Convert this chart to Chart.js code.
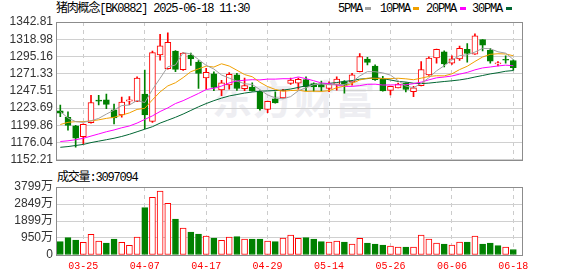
<!DOCTYPE html>
<html>
<head>
<meta charset="utf-8">
<script src="https://cdn.jsdelivr.net/npm/chart.js@4/dist/chart.umd.min.js"></script>
<style>
  body { margin: 0; width: 578px; height: 276px; overflow: hidden; position: relative; background: #fff; }
  .txt { position: absolute; white-space: nowrap; font-family: "Liberation Mono", "Noto Sans CJK SC", monospace;
         font-size: 12px; letter-spacing: -1.2px; line-height: 14px; color: #000; }
  .sq { position: absolute; width: 6px; height: 3px; top: 7px; }
  .mark { position: absolute; left: 212px; top: 68px; font-family: "Noto Sans CJK SC", sans-serif; font-weight: bold;
          font-size: 40px; letter-spacing: 1px; color: #eeeef2; white-space: nowrap; }
  canvas { position: absolute; left: 0; }
</style>
</head>
<body>
<div class="mark">东方财富</div>
<div class="txt" style="left:56px;top:2px">猪肉概念[BK0882] 2025-06-18 11:30</div>
<div class="txt" style="left:338px;top:2px">5PMA</div><div class="sq" style="left:365px;background:#a0a0a0"></div>
<div class="txt" style="left:380px;top:2px">10PMA</div><div class="sq" style="left:413px;background:#f0a000"></div>
<div class="txt" style="left:426px;top:2px">20PMA</div><div class="sq" style="left:460px;background:#ff00ff"></div>
<div class="txt" style="left:472px;top:2px">30PMA</div><div class="sq" style="left:506px;background:#006633"></div>
<div class="txt" style="left:57px;top:171px">成交量:3097094</div>
<canvas id="kChart" width="578" height="170" style="top:0"></canvas>
<canvas id="volChart" width="578" height="106" style="top:170px"></canvas>
<script>
// trading days shown
const dates = ['03-20','03-21','03-24','03-25','03-26','03-27','03-28','03-31','04-01','04-02',
  '04-03','04-07','04-08','04-09','04-10','04-11','04-14','04-15','04-16','04-17',
  '04-18','04-21','04-22','04-23','04-24','04-25','04-28','04-29','04-30','05-06',
  '05-07','05-08','05-09','05-12','05-13','05-14','05-15','05-16','05-19','05-20',
  '05-21','05-22','05-23','05-26','05-27','05-28','05-29','05-30','06-03','06-04',
  '06-05','06-06','06-09','06-10','06-11','06-12','06-13','06-16','06-17','06-18'];

// daily OHLC
const opens = [1220.1,1211.0,1199.2,1184.2,1203.5,1234.0,1235.0,1221.2,1214.2,1233.2,
  1233.0,1243.0,1205.3,1297.2,1278.1,1302.6,1276.8,1297.2,1287.5,1265.3,
  1271.0,1249.0,1255.7,1269.7,1250.5,1252.8,1247.0,1221.9,1236.4,1237.9,
  1257.9,1258.1,1263.0,1257.5,1256.4,1250.8,1256.4,1260.4,1260.1,1274.1,
  1291.4,1281.7,1264.0,1248.2,1251.7,1258.4,1246.4,1254.8,1269.5,1293.0,
  1301.5,1286.0,1291.7,1305.0,1298.4,1318.4,1303.7,1284.8,1290.4,1289.5];
const highs = [1227.9,1218.6,1200.0,1202.0,1241.3,1241.5,1243.0,1229.3,1239.0,1239.5,
  1267.0,1276.4,1302.5,1325.6,1328.0,1303.3,1300.6,1299.8,1289.5,1278.6,
  1274.0,1262.0,1273.0,1271.8,1265.2,1258.5,1247.6,1233.4,1246.3,1249.7,
  1265.2,1265.2,1266.8,1258.6,1261.0,1260.1,1267.0,1261.9,1271.9,1299.0,
  1294.1,1283.6,1267.5,1254.2,1258.4,1258.6,1254.0,1288.2,1294.8,1305.4,
  1302.8,1296.1,1309.5,1313.0,1326.4,1318.6,1306.4,1288.2,1296.1,1290.4];
const lows = [1212.0,1193.3,1169.8,1174.2,1203.0,1228.2,1223.0,1201.9,1211.2,1228.4,
  1232.5,1195.1,1204.0,1290.1,1277.5,1274.0,1276.0,1282.6,1251.0,1250.0,
  1247.9,1240.8,1250.0,1248.2,1247.9,1247.0,1221.0,1217.5,1230.5,1237.5,
  1256.4,1250.0,1247.7,1247.0,1247.0,1246.3,1248.6,1244.5,1255.3,1273.8,
  1283.5,1261.9,1247.0,1242.0,1251.5,1246.0,1239.7,1254.5,1269.0,1286.0,
  1280.6,1284.2,1289.5,1287.3,1298.0,1302.8,1286.0,1282.0,1286.0,1276.2];
const closes = [1216.6,1199.6,1182.0,1201.2,1231.5,1233.4,1228.8,1210.1,1232.0,1235.1,
  1265.3,1214.3,1300.4,1309.7,1314.6,1277.3,1299.7,1291.9,1271.6,1273.2,
  1252.3,1258.6,1270.4,1250.8,1255.0,1247.5,1223.0,1233.0,1231.0,1248.6,
  1262.5,1263.5,1253.5,1253.0,1252.8,1257.0,1263.9,1255.5,1269.7,1295.0,
  1287.0,1263.0,1247.5,1253.9,1257.1,1249.5,1251.7,1277.0,1293.0,1305.0,
  1285.0,1291.7,1306.4,1299.3,1323.7,1310.8,1288.6,1285.5,1289.9,1279.7];

// volume, in 万
const volumes = [745,968,838,708,1155,782,670,894,708,540,
  1006,2644,3221,3575,2886,2011,1508,1285,1173,1062,
  950,819,1006,1024,894,894,894,782,745,950,
  1117,931,968,894,745,726,782,726,614,931,
  670,614,559,503,447,447,447,1117,894,670,
  614,559,726,726,1062,614,670,522,447,309.7];

// moving averages as drawn
const ma5 = [1219,1210,1205,1204,1206.2,1209.5,1215.4,1221.0,1227.2,1228.0,
  1234.3,1231.4,1249.4,1265.0,1280.9,1283.3,1300.4,1298.7,1291.0,1282.8,
  1277.8,1269.5,1265.2,1261.1,1257.4,1256.4,1249.3,1241.9,1237.9,1236.6,
  1239.6,1247.7,1251.8,1256.2,1257.1,1256.0,1256.0,1256.4,1259.8,1268.2,
  1274.2,1274.0,1272.4,1269.3,1261.7,1254.2,1251.9,1257.8,1265.7,1275.2,
  1282.3,1290.3,1296.2,1297.5,1301.2,1306.4,1305.8,1301.6,1299.7,1290.9];
const ma10 = [1201,1204,1205,1205,1206,1207.5,1209.5,1211,1214,1217.1,
  1221.9,1223.4,1235.2,1246.1,1254.4,1258.8,1265.9,1274.1,1278.0,1281.8,
  1280.5,1285.0,1281.9,1276.1,1270.1,1267.1,1259.4,1253.5,1249.5,1247.0,
  1248.0,1248.5,1246.8,1247.1,1246.8,1247.8,1251.9,1254.1,1258.0,1262.6,
  1265.1,1265.0,1264.4,1264.5,1265.0,1264.2,1263.0,1265.1,1267.5,1268.5,
  1268.3,1271.1,1277.0,1281.6,1288.2,1294.4,1298.1,1298.9,1298.6,1296.1];
const ma20 = [1177.5,1178.5,1180,1182,1185,1188,1191,1193.5,1196.5,1199,
  1203,1208,1213,1219,1224,1230,1234,1239,1244,1249.4,
  1251.2,1254.2,1258.6,1261.1,1262.3,1263.0,1262.7,1263.8,1263.8,1264.4,
  1264.3,1266.8,1264.4,1261.6,1258.5,1257.5,1255.7,1253.8,1253.8,1254.8,
  1256.6,1256.8,1255.6,1255.8,1255.9,1256.0,1257.5,1259.6,1262.8,1265.6,
  1266.7,1268.1,1270.7,1273.1,1276.6,1279.3,1280.6,1282.0,1283.1,1282.3];
const ma30 = [1169.5,1170.5,1172,1173.5,1176,1178,1180,1182,1184.5,1187.5,
  1191,1194.5,1198,1203,1207,1211,1215.5,1220.5,1225.5,1230,
  1234,1237.5,1240.5,1242.5,1244.5,1246,1247,1247.5,1248,1248.6,
  1250.1,1252.3,1254.6,1256.4,1257.1,1257.9,1259.1,1260.6,1261.8,1263.8,
  1264.5,1266.2,1264.4,1262.6,1260.6,1259.7,1258.1,1257.6,1258.3,1259.4,
  1260.5,1261.5,1262.7,1264.4,1266.7,1268.8,1271.0,1272.7,1274.7,1275.7];

// axis ticks
const priceTicks = [1152.21,1176.04,1199.86,1223.69,1247.51,1271.33,1295.16,1318.98,1342.81];
const volTicks = [0,950,1899,2849,3799];
const volTickLabels = ['0','950万','1899万','2849万','3799万'];
const dateTicks = ['03-25','04-07','04-17','04-29','05-14','05-26','06-06','06-18'];

const UP = '#ff0000', DOWN = '#008000';
const dateTickIdx = dateTicks.map(d => dates.indexOf(d));
const candleUp = closes.map((c, i) => c >= opens[i]);
const volUp = closes.map((c, i) => i === 0 ? c >= opens[0] : c >= closes[i - 1]);

// draws the grey frame round the plot
const boxPlugin = {
  id: 'box',
  afterDraw(chart) {
    const a = chart.chartArea, ctx = chart.ctx;
    ctx.save();
    ctx.strokeStyle = '#8c8c8c';
    ctx.lineWidth = 1;
    ctx.strokeRect(Math.round(a.left) + 0.5, Math.round(a.top) + 0.5,
      Math.round(a.right - a.left), Math.round(a.bottom - a.top));
    ctx.restore();
  }
};

function xAxis(showLabels) {
  return {
    type: 'linear', min: -0.56, max: 60.13, offset: false,
    afterBuildTicks: s => { s.ticks = dateTickIdx.map(v => ({ value: v })); },
    afterFit: s => { s.height = showLabels ? 21 : 0; },
    grid: { color: '#cccccc', drawTicks: false, offset: false },
    border: { display: false, dash: [4, 4] },
    ticks: {
      display: showLabels, autoSkip: false, maxRotation: 0, padding: 5,
      color: '#ff0000', font: { family: "'Liberation Mono', monospace", size: 10 },
      callback: v => dates[v]
    }
  };
}

function yAxis(min, max, tickValues, labelOf) {
  return {
    min: min, max: max,
    afterBuildTicks: s => { s.ticks = tickValues.map(v => ({ value: v })); },
    afterFit: s => { s.width = 56; },
    grid: { color: '#d0d0d0', drawTicks: false },
    border: { display: false },
    ticks: {
      padding: 3, color: '#333', autoSkip: false,
      font: { family: "'Liberation Sans', 'Noto Sans CJK SC', sans-serif", size: 12 },
      callback: labelOf
    }
  };
}

function lineSet(data, color) {
  return {
    type: 'line', data: data.map((v, i) => ({ x: i, y: v })),
    borderColor: color, borderWidth: 1, pointRadius: 0, tension: 0, order: 0
  };
}

new Chart(document.getElementById('kChart'), {
  type: 'bar',
  data: {
    datasets: [
      lineSet(ma5, '#a0a0a0'),
      lineSet(ma10, '#f0a000'),
      lineSet(ma20, '#ff00ff'),
      lineSet(ma30, '#006633'),
      {
        // candle bodies
        data: opens.map((o, i) => ({ x: i, y: [o, closes[i]] })),
        backgroundColor: candleUp.map(u => u ? '#ffffff' : DOWN),
        borderColor: candleUp.map(u => u ? UP : DOWN),
        borderWidth: 1, borderSkipped: false, barThickness: 6, minBarLength: 1,
        grouped: false, order: 1
      },
      {
        // wicks
        data: lows.map((l, i) => ({ x: i, y: [l, highs[i]] })),
        backgroundColor: candleUp.map(u => u ? UP : DOWN),
        borderWidth: 0, barThickness: 1, grouped: false, order: 2
      }
    ]
  },
  options: {
    responsive: false, animation: false, events: [],
    layout: { padding: { left: 0, right: 56, top: 22, bottom: 5 } },
    plugins: { legend: { display: false }, tooltip: { enabled: false } },
    scales: {
      x: xAxis(false),
      y: yAxis(1152.21, 1342.81, priceTicks, v => v.toFixed(2))
    }
  },
  plugins: [boxPlugin]
});

new Chart(document.getElementById('volChart'), {
  type: 'bar',
  data: {
    datasets: [{
      data: volumes.map((v, i) => ({ x: i, y: v })),
      backgroundColor: volUp.map(u => u ? '#ffffff' : DOWN),
      borderColor: volUp.map(u => u ? UP : DOWN),
      borderWidth: 1, borderSkipped: false, barThickness: 6
    }]
  },
  options: {
    responsive: false, animation: false, events: [],
    layout: { padding: { left: 0, right: 56, top: 17, bottom: 0 } },
    plugins: { legend: { display: false }, tooltip: { enabled: false } },
    scales: {
      x: xAxis(true),
      y: yAxis(0, 3799, volTicks, (v, i) => volTickLabels[i])
    }
  },
  plugins: [boxPlugin]
});
</script>
</body>
</html>
